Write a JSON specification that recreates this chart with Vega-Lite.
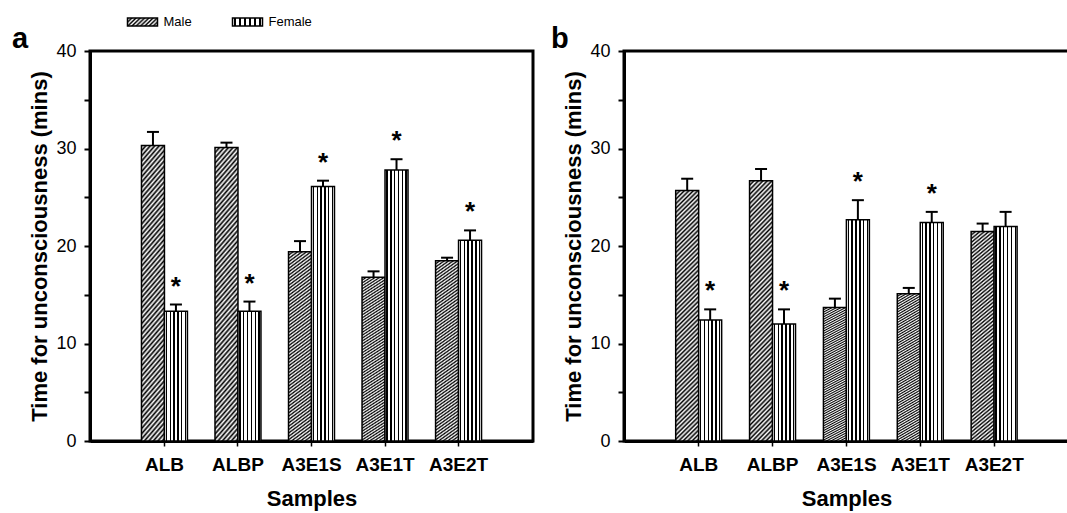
{
  "$schema": "https://vega.github.io/schema/vega-lite/v6.json",
  "padding": {"left": 10, "top": 16, "right": 2, "bottom": 2},
  "background": "white",
  "datasets": {
    "d": [
      {"panel": "a", "sample": "ALB", "sex": "Male", "value": 30.3, "err": 31.7, "star": ""},
      {"panel": "a", "sample": "ALB", "sex": "Female", "value": 13.3, "err": 14.0, "star": "*"},
      {"panel": "a", "sample": "ALBP", "sex": "Male", "value": 30.1, "err": 30.6, "star": ""},
      {"panel": "a", "sample": "ALBP", "sex": "Female", "value": 13.3, "err": 14.3, "star": "*"},
      {"panel": "a", "sample": "A3E1S", "sex": "Male", "value": 19.4, "err": 20.5, "star": ""},
      {"panel": "a", "sample": "A3E1S", "sex": "Female", "value": 26.1, "err": 26.7, "star": "*"},
      {"panel": "a", "sample": "A3E1T", "sex": "Male", "value": 16.8, "err": 17.4, "star": ""},
      {"panel": "a", "sample": "A3E1T", "sex": "Female", "value": 27.8, "err": 28.9, "star": "*"},
      {"panel": "a", "sample": "A3E2T", "sex": "Male", "value": 18.5, "err": 18.8, "star": ""},
      {"panel": "a", "sample": "A3E2T", "sex": "Female", "value": 20.6, "err": 21.6, "star": "*"},
      {"panel": "b", "sample": "ALB", "sex": "Male", "value": 25.7, "err": 26.9, "star": ""},
      {"panel": "b", "sample": "ALB", "sex": "Female", "value": 12.4, "err": 13.5, "star": "*"},
      {"panel": "b", "sample": "ALBP", "sex": "Male", "value": 26.7, "err": 27.9, "star": ""},
      {"panel": "b", "sample": "ALBP", "sex": "Female", "value": 12.0, "err": 13.5, "star": "*"},
      {"panel": "b", "sample": "A3E1S", "sex": "Male", "value": 13.7, "err": 14.6, "star": ""},
      {"panel": "b", "sample": "A3E1S", "sex": "Female", "value": 22.7, "err": 24.7, "star": "*"},
      {"panel": "b", "sample": "A3E1T", "sex": "Male", "value": 15.1, "err": 15.7, "star": ""},
      {"panel": "b", "sample": "A3E1T", "sex": "Female", "value": 22.4, "err": 23.5, "star": "*"},
      {"panel": "b", "sample": "A3E2T", "sex": "Male", "value": 21.5, "err": 22.3, "star": ""},
      {"panel": "b", "sample": "A3E2T", "sex": "Female", "value": 22.0, "err": 23.5, "star": ""}
    ],
    "legend": [
      {"sex": "Male"},
      {"sex": "Female"}
    ]
  },
  "config": {
    "view": {"stroke": "black", "strokeWidth": 3},
    "axis": {"domainColor": "black", "domainWidth": 3, "tickColor": "black", "grid": false, "labelColor": "black", "titleColor": "black", "labelFont": "Liberation Sans", "titleFont": "Liberation Sans"},
    "axisX": {"tickSize": 5, "tickWidth": 1.5, "labelFontSize": 19, "labelFontWeight": "bold", "labelPadding": 9, "titleFontSize": 22, "titleFontWeight": "bold", "titlePadding": 14, "labelAngle": 0},
    "axisY": {"tickSize": 6, "tickWidth": 2, "labelFontSize": 18, "labelPadding": 8, "titleFontSize": 22, "titleFontWeight": "bold", "titlePadding": 4},
    "title": {"font": "Liberation Sans", "fontSize": 29, "fontWeight": "bold", "color": "black", "anchor": "start", "frame": "group", "offset": -12}
  },
  "spacing": -6,
  "vconcat": [
    {
      "width": 210, "height": 8,
      "view": {"stroke": null},
      "data": {"name": "legend"},
      "encoding": {
        "x": {"field": "sex", "type": "nominal", "sort": ["Male", "Female"], "scale": {"domain": ["Male", "Female"], "paddingInner": 0, "paddingOuter": 0}, "axis": null}
      },
      "layer": [
        {
          "mark": {"type": "bar", "width": 30, "stroke": "black", "strokeWidth": 1.5},
          "encoding": {
            "fill": {"condition": {"test": "datum.sex === 'Male'", "value": {"gradient": "linear", "x1": 0, "y1": 0, "x2": 1.19, "y2": 0.33, "stops": [{"offset":0,"color":"#000"},{"offset":0.0556,"color":"#fff"},{"offset":0.1111,"color":"#000"},{"offset":0.1667,"color":"#fff"},{"offset":0.2222,"color":"#000"},{"offset":0.2778,"color":"#fff"},{"offset":0.3333,"color":"#000"},{"offset":0.3889,"color":"#fff"},{"offset":0.4444,"color":"#000"},{"offset":0.5,"color":"#fff"},{"offset":0.5556,"color":"#000"},{"offset":0.6111,"color":"#fff"},{"offset":0.6667,"color":"#000"},{"offset":0.7222,"color":"#fff"},{"offset":0.7778,"color":"#000"},{"offset":0.8333,"color":"#fff"},{"offset":0.8889,"color":"#000"},{"offset":0.9444,"color":"#fff"},{"offset":1,"color":"#000"}]}},
              "value": {"gradient": "linear", "x1": 0, "y1": 0, "x2": 1, "y2": 0, "stops": [{"offset":0,"color":"#fff"},{"offset":0.055,"color":"#fff"},{"offset":0.055,"color":"#000"},{"offset":0.115,"color":"#000"},{"offset":0.115,"color":"#fff"},{"offset":0.222,"color":"#fff"},{"offset":0.222,"color":"#000"},{"offset":0.282,"color":"#000"},{"offset":0.282,"color":"#fff"},{"offset":0.388,"color":"#fff"},{"offset":0.388,"color":"#000"},{"offset":0.448,"color":"#000"},{"offset":0.448,"color":"#fff"},{"offset":0.555,"color":"#fff"},{"offset":0.555,"color":"#000"},{"offset":0.615,"color":"#000"},{"offset":0.615,"color":"#fff"},{"offset":0.722,"color":"#fff"},{"offset":0.722,"color":"#000"},{"offset":0.782,"color":"#000"},{"offset":0.782,"color":"#fff"},{"offset":0.888,"color":"#fff"},{"offset":0.888,"color":"#000"},{"offset":0.948,"color":"#000"},{"offset":0.948,"color":"#fff"},{"offset":1,"color":"#fff"}]}}
          }
        },
        {
          "mark": {"type": "text", "align": "left", "baseline": "middle", "dx": 21, "dy": 0, "font": "Liberation Sans", "fontSize": 13, "color": "black"},
          "encoding": {"text": {"field": "sex"}}
        }
      ]
    },
    {
      "spacing": 14,
      "hconcat": [
        {
          "width": 443, "height": 390,
          "title": {"text": "a", "dx": -78},
          "data": {"name": "d"},
          "transform": [{"filter": "datum.panel === 'a'"}],
          "encoding": {
            "x": {"field": "sample", "type": "nominal", "sort": ["ALB", "ALBP", "A3E1S", "A3E1T", "A3E2T"], "scale": {"paddingInner": 0.375, "paddingOuter": 0.7}, "title": "Samples"},
            "xOffset": {"field": "sex", "type": "nominal", "sort": ["Male", "Female"], "scale": {"domain": ["Male", "Female"], "paddingInner": 0, "paddingOuter": 0}}
          },
          "layer": [
            {
              "mark": {"type": "bar", "strokeWidth": 1.5, "stroke": "black"},
              "encoding": {
                "y": {"field": "value", "type": "quantitative", "scale": {"domain": [0, 40], "nice": false}, "title": "Time for unconsciousness (mins)", "axis": {"values": [0, 5, 10, 15, 20, 25, 30, 35, 40], "labelExpr": "datum.value % 10 === 0 ? datum.label : ''"}},
                "fill": {"condition": {"test": "datum.sex === 'Male'", "value": {"gradient": "linear", "x1": 0, "y1": 0, "x2": 0.1, "y2": 1.1, "stops": [{"offset":0,"color":"#000"},{"offset":0.008,"color":"#fff"},{"offset":0.016,"color":"#000"},{"offset":0.024,"color":"#fff"},{"offset":0.032,"color":"#000"},{"offset":0.04,"color":"#fff"},{"offset":0.048,"color":"#000"},{"offset":0.056,"color":"#fff"},{"offset":0.064,"color":"#000"},{"offset":0.072,"color":"#fff"},{"offset":0.08,"color":"#000"},{"offset":0.088,"color":"#fff"},{"offset":0.096,"color":"#000"},{"offset":0.104,"color":"#fff"},{"offset":0.112,"color":"#000"},{"offset":0.12,"color":"#fff"},{"offset":0.128,"color":"#000"},{"offset":0.136,"color":"#fff"},{"offset":0.144,"color":"#000"},{"offset":0.152,"color":"#fff"},{"offset":0.16,"color":"#000"},{"offset":0.168,"color":"#fff"},{"offset":0.176,"color":"#000"},{"offset":0.184,"color":"#fff"},{"offset":0.192,"color":"#000"},{"offset":0.2,"color":"#fff"},{"offset":0.208,"color":"#000"},{"offset":0.216,"color":"#fff"},{"offset":0.224,"color":"#000"},{"offset":0.232,"color":"#fff"},{"offset":0.24,"color":"#000"},{"offset":0.248,"color":"#fff"},{"offset":0.256,"color":"#000"},{"offset":0.264,"color":"#fff"},{"offset":0.272,"color":"#000"},{"offset":0.28,"color":"#fff"},{"offset":0.288,"color":"#000"},{"offset":0.296,"color":"#fff"},{"offset":0.304,"color":"#000"},{"offset":0.312,"color":"#fff"},{"offset":0.32,"color":"#000"},{"offset":0.328,"color":"#fff"},{"offset":0.336,"color":"#000"},{"offset":0.344,"color":"#fff"},{"offset":0.352,"color":"#000"},{"offset":0.36,"color":"#fff"},{"offset":0.368,"color":"#000"},{"offset":0.376,"color":"#fff"},{"offset":0.384,"color":"#000"},{"offset":0.392,"color":"#fff"},{"offset":0.4,"color":"#000"},{"offset":0.408,"color":"#fff"},{"offset":0.416,"color":"#000"},{"offset":0.424,"color":"#fff"},{"offset":0.432,"color":"#000"},{"offset":0.44,"color":"#fff"},{"offset":0.448,"color":"#000"},{"offset":0.456,"color":"#fff"},{"offset":0.464,"color":"#000"},{"offset":0.472,"color":"#fff"},{"offset":0.48,"color":"#000"},{"offset":0.488,"color":"#fff"},{"offset":0.496,"color":"#000"},{"offset":0.504,"color":"#fff"},{"offset":0.512,"color":"#000"},{"offset":0.52,"color":"#fff"},{"offset":0.528,"color":"#000"},{"offset":0.536,"color":"#fff"},{"offset":0.544,"color":"#000"},{"offset":0.552,"color":"#fff"},{"offset":0.56,"color":"#000"},{"offset":0.568,"color":"#fff"},{"offset":0.576,"color":"#000"},{"offset":0.584,"color":"#fff"},{"offset":0.592,"color":"#000"},{"offset":0.6,"color":"#fff"},{"offset":0.608,"color":"#000"},{"offset":0.616,"color":"#fff"},{"offset":0.624,"color":"#000"},{"offset":0.632,"color":"#fff"},{"offset":0.64,"color":"#000"},{"offset":0.648,"color":"#fff"},{"offset":0.656,"color":"#000"},{"offset":0.664,"color":"#fff"},{"offset":0.672,"color":"#000"},{"offset":0.68,"color":"#fff"},{"offset":0.688,"color":"#000"},{"offset":0.696,"color":"#fff"},{"offset":0.704,"color":"#000"},{"offset":0.712,"color":"#fff"},{"offset":0.72,"color":"#000"},{"offset":0.728,"color":"#fff"},{"offset":0.736,"color":"#000"},{"offset":0.744,"color":"#fff"},{"offset":0.752,"color":"#000"},{"offset":0.76,"color":"#fff"},{"offset":0.768,"color":"#000"},{"offset":0.776,"color":"#fff"},{"offset":0.784,"color":"#000"},{"offset":0.792,"color":"#fff"},{"offset":0.8,"color":"#000"},{"offset":0.808,"color":"#fff"},{"offset":0.816,"color":"#000"},{"offset":0.824,"color":"#fff"},{"offset":0.832,"color":"#000"},{"offset":0.84,"color":"#fff"},{"offset":0.848,"color":"#000"},{"offset":0.856,"color":"#fff"},{"offset":0.864,"color":"#000"},{"offset":0.872,"color":"#fff"},{"offset":0.88,"color":"#000"},{"offset":0.888,"color":"#fff"},{"offset":0.896,"color":"#000"},{"offset":0.904,"color":"#fff"},{"offset":0.912,"color":"#000"},{"offset":0.92,"color":"#fff"},{"offset":0.928,"color":"#000"},{"offset":0.936,"color":"#fff"},{"offset":0.944,"color":"#000"},{"offset":0.952,"color":"#fff"},{"offset":0.96,"color":"#000"},{"offset":0.968,"color":"#fff"},{"offset":0.976,"color":"#000"},{"offset":0.984,"color":"#fff"},{"offset":0.992,"color":"#000"},{"offset":1,"color":"#fff"}]}},
                  "value": {"gradient": "linear", "x1": 0, "y1": 0, "x2": 1, "y2": 0, "stops": [{"offset":0,"color":"#fff"},{"offset":0.055,"color":"#fff"},{"offset":0.055,"color":"#000"},{"offset":0.115,"color":"#000"},{"offset":0.115,"color":"#fff"},{"offset":0.222,"color":"#fff"},{"offset":0.222,"color":"#000"},{"offset":0.282,"color":"#000"},{"offset":0.282,"color":"#fff"},{"offset":0.388,"color":"#fff"},{"offset":0.388,"color":"#000"},{"offset":0.448,"color":"#000"},{"offset":0.448,"color":"#fff"},{"offset":0.555,"color":"#fff"},{"offset":0.555,"color":"#000"},{"offset":0.615,"color":"#000"},{"offset":0.615,"color":"#fff"},{"offset":0.722,"color":"#fff"},{"offset":0.722,"color":"#000"},{"offset":0.782,"color":"#000"},{"offset":0.782,"color":"#fff"},{"offset":0.888,"color":"#fff"},{"offset":0.888,"color":"#000"},{"offset":0.948,"color":"#000"},{"offset":0.948,"color":"#fff"},{"offset":1,"color":"#fff"}]}
                }
              }
            },
            {"mark": {"type": "rule", "strokeWidth": 2, "color": "black"}, "encoding": {"y": {"field": "value", "type": "quantitative", "title": "Time for unconsciousness (mins)"}, "y2": {"field": "err"}}},
            {"mark": {"type": "tick", "thickness": 2, "size": 12, "color": "black", "opacity": 1}, "encoding": {"y": {"field": "err", "type": "quantitative", "title": "Time for unconsciousness (mins)"}}},
            {"mark": {"type": "text", "font": "Liberation Sans", "fontSize": 26, "fontWeight": "bold", "baseline": "alphabetic", "dy": -10, "color": "black"}, "encoding": {"y": {"field": "err", "type": "quantitative", "title": "Time for unconsciousness (mins)"}, "text": {"field": "star"}}}
          ]
        },
        {
          "width": 445, "height": 390,
          "title": {"text": "b", "dx": -73},
          "data": {"name": "d"},
          "transform": [{"filter": "datum.panel === 'b'"}],
          "encoding": {
            "x": {"field": "sample", "type": "nominal", "sort": ["ALB", "ALBP", "A3E1S", "A3E1T", "A3E2T"], "scale": {"paddingInner": 0.375, "paddingOuter": 0.7}, "title": "Samples"},
            "xOffset": {"field": "sex", "type": "nominal", "sort": ["Male", "Female"], "scale": {"domain": ["Male", "Female"], "paddingInner": 0, "paddingOuter": 0}}
          },
          "layer": [
            {
              "mark": {"type": "bar", "strokeWidth": 1.5, "stroke": "black"},
              "encoding": {
                "y": {"field": "value", "type": "quantitative", "scale": {"domain": [0, 40], "nice": false}, "title": "Time for unconsciousness (mins)", "axis": {"values": [0, 5, 10, 15, 20, 25, 30, 35, 40], "labelExpr": "datum.value % 10 === 0 ? datum.label : ''"}},
                "fill": {"condition": {"test": "datum.sex === 'Male'", "value": {"gradient": "linear", "x1": 0, "y1": 0, "x2": 0.1, "y2": 1.1, "stops": [{"offset":0,"color":"#000"},{"offset":0.008,"color":"#fff"},{"offset":0.016,"color":"#000"},{"offset":0.024,"color":"#fff"},{"offset":0.032,"color":"#000"},{"offset":0.04,"color":"#fff"},{"offset":0.048,"color":"#000"},{"offset":0.056,"color":"#fff"},{"offset":0.064,"color":"#000"},{"offset":0.072,"color":"#fff"},{"offset":0.08,"color":"#000"},{"offset":0.088,"color":"#fff"},{"offset":0.096,"color":"#000"},{"offset":0.104,"color":"#fff"},{"offset":0.112,"color":"#000"},{"offset":0.12,"color":"#fff"},{"offset":0.128,"color":"#000"},{"offset":0.136,"color":"#fff"},{"offset":0.144,"color":"#000"},{"offset":0.152,"color":"#fff"},{"offset":0.16,"color":"#000"},{"offset":0.168,"color":"#fff"},{"offset":0.176,"color":"#000"},{"offset":0.184,"color":"#fff"},{"offset":0.192,"color":"#000"},{"offset":0.2,"color":"#fff"},{"offset":0.208,"color":"#000"},{"offset":0.216,"color":"#fff"},{"offset":0.224,"color":"#000"},{"offset":0.232,"color":"#fff"},{"offset":0.24,"color":"#000"},{"offset":0.248,"color":"#fff"},{"offset":0.256,"color":"#000"},{"offset":0.264,"color":"#fff"},{"offset":0.272,"color":"#000"},{"offset":0.28,"color":"#fff"},{"offset":0.288,"color":"#000"},{"offset":0.296,"color":"#fff"},{"offset":0.304,"color":"#000"},{"offset":0.312,"color":"#fff"},{"offset":0.32,"color":"#000"},{"offset":0.328,"color":"#fff"},{"offset":0.336,"color":"#000"},{"offset":0.344,"color":"#fff"},{"offset":0.352,"color":"#000"},{"offset":0.36,"color":"#fff"},{"offset":0.368,"color":"#000"},{"offset":0.376,"color":"#fff"},{"offset":0.384,"color":"#000"},{"offset":0.392,"color":"#fff"},{"offset":0.4,"color":"#000"},{"offset":0.408,"color":"#fff"},{"offset":0.416,"color":"#000"},{"offset":0.424,"color":"#fff"},{"offset":0.432,"color":"#000"},{"offset":0.44,"color":"#fff"},{"offset":0.448,"color":"#000"},{"offset":0.456,"color":"#fff"},{"offset":0.464,"color":"#000"},{"offset":0.472,"color":"#fff"},{"offset":0.48,"color":"#000"},{"offset":0.488,"color":"#fff"},{"offset":0.496,"color":"#000"},{"offset":0.504,"color":"#fff"},{"offset":0.512,"color":"#000"},{"offset":0.52,"color":"#fff"},{"offset":0.528,"color":"#000"},{"offset":0.536,"color":"#fff"},{"offset":0.544,"color":"#000"},{"offset":0.552,"color":"#fff"},{"offset":0.56,"color":"#000"},{"offset":0.568,"color":"#fff"},{"offset":0.576,"color":"#000"},{"offset":0.584,"color":"#fff"},{"offset":0.592,"color":"#000"},{"offset":0.6,"color":"#fff"},{"offset":0.608,"color":"#000"},{"offset":0.616,"color":"#fff"},{"offset":0.624,"color":"#000"},{"offset":0.632,"color":"#fff"},{"offset":0.64,"color":"#000"},{"offset":0.648,"color":"#fff"},{"offset":0.656,"color":"#000"},{"offset":0.664,"color":"#fff"},{"offset":0.672,"color":"#000"},{"offset":0.68,"color":"#fff"},{"offset":0.688,"color":"#000"},{"offset":0.696,"color":"#fff"},{"offset":0.704,"color":"#000"},{"offset":0.712,"color":"#fff"},{"offset":0.72,"color":"#000"},{"offset":0.728,"color":"#fff"},{"offset":0.736,"color":"#000"},{"offset":0.744,"color":"#fff"},{"offset":0.752,"color":"#000"},{"offset":0.76,"color":"#fff"},{"offset":0.768,"color":"#000"},{"offset":0.776,"color":"#fff"},{"offset":0.784,"color":"#000"},{"offset":0.792,"color":"#fff"},{"offset":0.8,"color":"#000"},{"offset":0.808,"color":"#fff"},{"offset":0.816,"color":"#000"},{"offset":0.824,"color":"#fff"},{"offset":0.832,"color":"#000"},{"offset":0.84,"color":"#fff"},{"offset":0.848,"color":"#000"},{"offset":0.856,"color":"#fff"},{"offset":0.864,"color":"#000"},{"offset":0.872,"color":"#fff"},{"offset":0.88,"color":"#000"},{"offset":0.888,"color":"#fff"},{"offset":0.896,"color":"#000"},{"offset":0.904,"color":"#fff"},{"offset":0.912,"color":"#000"},{"offset":0.92,"color":"#fff"},{"offset":0.928,"color":"#000"},{"offset":0.936,"color":"#fff"},{"offset":0.944,"color":"#000"},{"offset":0.952,"color":"#fff"},{"offset":0.96,"color":"#000"},{"offset":0.968,"color":"#fff"},{"offset":0.976,"color":"#000"},{"offset":0.984,"color":"#fff"},{"offset":0.992,"color":"#000"},{"offset":1,"color":"#fff"}]}},
                  "value": {"gradient": "linear", "x1": 0, "y1": 0, "x2": 1, "y2": 0, "stops": [{"offset":0,"color":"#fff"},{"offset":0.055,"color":"#fff"},{"offset":0.055,"color":"#000"},{"offset":0.115,"color":"#000"},{"offset":0.115,"color":"#fff"},{"offset":0.222,"color":"#fff"},{"offset":0.222,"color":"#000"},{"offset":0.282,"color":"#000"},{"offset":0.282,"color":"#fff"},{"offset":0.388,"color":"#fff"},{"offset":0.388,"color":"#000"},{"offset":0.448,"color":"#000"},{"offset":0.448,"color":"#fff"},{"offset":0.555,"color":"#fff"},{"offset":0.555,"color":"#000"},{"offset":0.615,"color":"#000"},{"offset":0.615,"color":"#fff"},{"offset":0.722,"color":"#fff"},{"offset":0.722,"color":"#000"},{"offset":0.782,"color":"#000"},{"offset":0.782,"color":"#fff"},{"offset":0.888,"color":"#fff"},{"offset":0.888,"color":"#000"},{"offset":0.948,"color":"#000"},{"offset":0.948,"color":"#fff"},{"offset":1,"color":"#fff"}]}
                }
              }
            },
            {"mark": {"type": "rule", "strokeWidth": 2, "color": "black"}, "encoding": {"y": {"field": "value", "type": "quantitative", "title": "Time for unconsciousness (mins)"}, "y2": {"field": "err"}}},
            {"mark": {"type": "tick", "thickness": 2, "size": 12, "color": "black", "opacity": 1}, "encoding": {"y": {"field": "err", "type": "quantitative", "title": "Time for unconsciousness (mins)"}}},
            {"mark": {"type": "text", "font": "Liberation Sans", "fontSize": 26, "fontWeight": "bold", "baseline": "alphabetic", "dy": -10, "color": "black"}, "encoding": {"y": {"field": "err", "type": "quantitative", "title": "Time for unconsciousness (mins)"}, "text": {"field": "star"}}}
          ]
        }
      ]
    }
  ]
}
